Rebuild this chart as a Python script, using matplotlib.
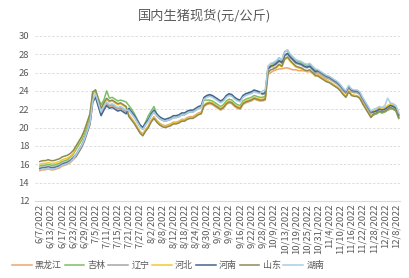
import matplotlib
matplotlib.use("Agg")
import matplotlib.pyplot as plt
import numpy as np

plt.rcParams['font.family'] = ['Noto Sans CJK SC', 'DejaVu Sans']

title = "国内生猪现货(元/公斤)"
tick_labels = ["6/7/2022", "6/13/2022", "6/17/2022", "6/23/2022", "6/29/2022", "7/5/2022",
               "7/11/2022", "7/15/2022", "7/21/2022", "7/27/2022", "8/2/2022", "8/8/2022",
               "8/12/2022", "8/18/2022", "8/24/2022", "8/30/2022", "9/5/2022", "9/9/2022",
               "9/16/2022", "9/22/2022", "9/28/2022", "10/9/2022", "10/13/2022", "10/19/2022",
               "10/25/2022", "10/31/2022", "11/4/2022", "11/10/2022", "11/16/2022", "11/22/2022",
               "11/28/2022", "12/2/2022", "12/8/2022"]
label_step = 4

heilongjiang = [
    15.3, 15.4, 15.4, 15.5, 15.4, 15.4, 15.5, 15.6, 15.8, 15.9,
    16.0, 16.2, 16.5, 16.8, 17.3, 17.8, 18.5, 19.4, 20.3, 22.7,
    23.5, 22.5, 21.5, 22.1, 22.6, 22.3, 22.4, 22.2, 22.0, 22.1,
    21.9, 21.7, 21.4, 21.0, 20.6, 20.1, 19.6, 19.3, 19.8, 20.2,
    20.8, 21.2, 20.8, 20.5, 20.3, 20.2, 20.3, 20.4, 20.6, 20.6,
    20.7, 20.9, 20.9, 21.1, 21.2, 21.2, 21.4, 21.6, 21.7, 22.3,
    22.5, 22.6, 22.5, 22.3, 22.1, 21.9, 22.1, 22.5, 22.7, 22.6,
    22.3, 22.1, 22.0, 22.5, 22.7, 22.8, 22.9, 23.1, 23.0, 22.9,
    22.9, 23.0, 25.8, 26.0, 26.2, 26.3, 26.4, 26.4, 26.5, 26.5,
    26.4, 26.3, 26.3, 26.2, 26.2, 26.2, 26.1, 26.1, 26.0, 25.9,
    25.8, 25.6, 25.4, 25.2, 25.0, 24.8, 24.6, 24.4, 24.1, 23.7,
    23.4, 23.9, 23.6, 23.5, 23.4, 23.2, 22.7, 22.2, 21.7, 21.2,
    21.4, 21.5, 21.7, 21.6, 21.7, 21.9, 22.0, 22.0, 21.8, 21.0]
jilin = [
    15.8, 15.9, 15.9, 16.0, 15.9, 15.9, 16.0, 16.1, 16.3, 16.4,
    16.5, 16.8, 17.1, 17.6, 18.1, 18.6, 19.3, 20.2, 21.2, 23.6,
    24.1, 23.2, 22.5, 23.0, 24.0, 23.2, 23.3, 23.1, 22.9, 23.0,
    22.9, 22.8, 22.4, 22.0, 21.5, 20.9, 20.3, 20.0, 20.6, 21.3,
    21.8, 22.3, 21.5, 21.0, 20.8, 20.7, 20.8, 20.9, 21.1, 21.1,
    21.2, 21.4, 21.4, 21.6, 21.7, 21.7, 21.9, 22.1, 22.2, 23.0,
    23.0, 23.0, 22.9, 22.7, 22.5, 22.3, 22.5, 22.9, 23.1, 23.0,
    22.7, 22.5, 22.4, 22.9, 23.1, 23.2, 23.3, 23.5, 23.4, 23.3,
    23.3, 23.4, 26.5, 26.9, 27.0, 27.2, 27.6, 27.3, 28.3, 28.4,
    27.9, 27.6, 27.3, 27.2, 27.1, 26.9, 26.8, 26.9, 26.6, 26.3,
    26.1, 25.9, 25.7, 25.5, 25.4, 25.2, 25.0, 24.8, 24.5, 24.1,
    23.8, 24.4, 24.0, 23.9, 23.9, 23.7, 23.1, 22.5, 21.9, 21.2,
    21.4, 21.5, 21.7, 21.6, 21.7, 21.9, 22.1, 22.0, 21.8, 21.0]
liaoning = [
    15.6, 15.7, 15.7, 15.8, 15.7, 15.7, 15.8, 15.9, 16.1, 16.2,
    16.3, 16.5, 16.8, 17.1, 17.6, 18.1, 18.8, 19.7, 20.6, 23.0,
    23.6, 22.6, 21.6, 22.2, 22.7, 22.4, 22.5, 22.3, 22.1, 22.2,
    22.0, 21.8, 21.9, 21.5, 21.1, 20.6, 20.1, 19.8, 20.3, 20.7,
    21.3, 21.7, 21.3, 21.0, 20.8, 20.7, 20.8, 20.9, 21.1, 21.1,
    21.2, 21.4, 21.4, 21.6, 21.7, 21.7, 21.9, 22.1, 22.2, 23.2,
    23.4, 23.5, 23.4, 23.2, 23.0, 22.8, 23.0, 23.4, 23.6, 23.5,
    23.2, 23.0, 22.9, 23.4, 23.6, 23.7, 23.8, 24.0, 23.9, 23.8,
    23.6, 23.7, 26.3, 26.6, 26.7, 26.9, 27.2, 27.0, 27.8, 28.0,
    27.6, 27.3, 27.0, 26.9, 26.8, 26.6, 26.5, 26.6, 26.3, 26.0,
    26.0, 25.8, 25.6, 25.4, 25.3, 25.1, 24.9, 24.7, 24.4, 24.0,
    23.7, 24.3, 23.9, 23.8, 23.8, 23.6, 23.0, 22.5, 22.0, 21.5,
    21.8, 21.9, 22.1, 22.0, 22.1, 22.3, 22.5, 22.4, 22.2, 21.4]
hebei = [
    16.0, 16.1, 16.1, 16.2, 16.1, 16.1, 16.2, 16.3, 16.5, 16.6,
    16.7, 16.9, 17.2, 17.9, 18.4, 18.9, 19.6, 20.5, 21.4, 23.8,
    24.0, 23.0, 22.0, 22.6, 23.1, 22.8, 22.9, 22.7, 22.5, 22.6,
    22.4, 22.2, 21.3, 20.9, 20.5, 20.0, 19.5, 19.2, 19.7, 20.1,
    20.7, 21.1, 20.7, 20.4, 20.2, 20.1, 20.2, 20.3, 20.5, 20.5,
    20.6, 20.8, 20.8, 21.0, 21.1, 21.1, 21.3, 21.5, 21.6, 22.5,
    22.7, 22.8, 22.7, 22.5, 22.3, 22.1, 22.3, 22.7, 22.9, 22.8,
    22.5, 22.3, 22.2, 22.7, 22.9, 23.0, 23.1, 23.3, 23.2, 23.1,
    23.1, 23.2, 26.6, 27.0, 26.5, 26.5, 26.8, 26.6, 27.4, 27.6,
    27.2, 26.9, 26.6, 26.5, 26.4, 26.2, 26.1, 26.2, 25.9, 25.6,
    25.7, 25.5, 25.3, 25.1, 25.0, 24.8, 24.6, 24.4, 24.1, 23.7,
    23.4, 24.0, 23.6, 23.5, 23.5, 23.3, 22.7, 22.2, 21.7, 21.2,
    21.9, 22.0, 22.2, 22.1, 22.2, 22.4, 22.6, 22.5, 22.3, 21.5]
henan = [
    15.5, 15.6, 15.6, 15.7, 15.6, 15.6, 15.7, 15.8, 16.0, 16.1,
    16.2, 16.4, 16.7, 16.9, 17.4, 17.9, 18.6, 19.5, 20.4, 22.8,
    23.3, 22.3, 21.3, 21.9, 22.4, 22.1, 22.2, 22.0, 21.8, 21.9,
    21.7, 21.5, 22.1, 21.7, 21.3, 20.8, 20.3, 20.0, 20.5, 20.9,
    21.5, 21.9, 21.5, 21.2, 21.0, 20.9, 21.0, 21.1, 21.3, 21.3,
    21.4, 21.6, 21.6, 21.8, 21.9, 21.9, 22.1, 22.3, 22.4, 23.3,
    23.5, 23.6, 23.5, 23.3, 23.1, 22.9, 23.1, 23.5, 23.7, 23.6,
    23.3, 23.1, 23.0, 23.5, 23.7, 23.8, 23.9, 24.1, 24.0, 23.9,
    23.7, 23.8, 26.4, 26.7, 26.8, 27.0, 27.3, 27.1, 27.9, 28.1,
    27.7, 27.4, 27.1, 27.0, 26.9, 26.7, 26.6, 26.7, 26.4, 26.1,
    26.2, 26.0, 25.8, 25.6, 25.5, 25.3, 25.1, 24.9, 24.6, 24.2,
    23.9, 24.5, 24.1, 24.0, 24.0, 23.8, 23.2, 22.7, 22.2, 21.7,
    21.7, 21.8, 22.0, 21.9, 22.0, 22.2, 22.4, 22.3, 22.1, 21.3]
shandong = [
    16.3, 16.4, 16.4, 16.5, 16.4, 16.4, 16.5, 16.6, 16.8, 16.9,
    17.0, 17.2, 17.5, 18.0, 18.5, 19.0, 19.7, 20.6, 21.5, 23.9,
    24.1, 23.1, 22.1, 22.7, 23.2, 22.9, 23.0, 22.8, 22.6, 22.7,
    22.5, 22.3, 21.2, 20.8, 20.4, 19.9, 19.4, 19.1, 19.6, 20.0,
    20.6, 21.0, 20.6, 20.3, 20.1, 20.0, 20.1, 20.2, 20.4, 20.4,
    20.5, 20.7, 20.7, 20.9, 21.0, 21.0, 21.2, 21.4, 21.5, 22.4,
    22.6, 22.7, 22.6, 22.4, 22.2, 22.0, 22.2, 22.6, 22.8, 22.7,
    22.4, 22.2, 22.1, 22.6, 22.8, 22.9, 23.0, 23.2, 23.1, 23.0,
    23.0, 23.1, 26.0, 26.3, 26.4, 26.6, 26.9, 26.7, 27.5, 27.7,
    27.3, 27.0, 26.7, 26.6, 26.5, 26.3, 26.2, 26.3, 26.0, 25.7,
    25.6, 25.4, 25.2, 25.0, 24.9, 24.7, 24.5, 24.3, 24.0, 23.6,
    23.3, 23.9, 23.5, 23.4, 23.4, 23.2, 22.6, 22.1, 21.6, 21.1,
    21.5, 21.6, 21.8, 21.7, 21.8, 22.0, 22.2, 22.1, 21.9, 21.1]
hunan = [
    15.4, 15.5, 15.5, 15.6, 15.5, 15.5, 15.6, 15.7, 15.9, 16.0,
    16.1, 16.3, 16.6, 17.0, 17.5, 18.0, 18.7, 19.6, 20.5, 22.9,
    23.7, 22.7, 21.7, 22.3, 22.8, 22.5, 22.6, 22.4, 22.2, 22.3,
    22.1, 21.9, 21.9, 21.5, 21.1, 20.6, 20.1, 19.8, 20.3, 20.7,
    21.3, 21.7, 21.3, 21.0, 20.8, 20.7, 20.8, 20.9, 21.1, 21.1,
    21.2, 21.4, 21.4, 21.6, 21.7, 21.7, 21.9, 22.1, 22.2, 23.1,
    23.3, 23.4, 23.3, 23.1, 22.9, 22.7, 22.9, 23.3, 23.5, 23.4,
    23.1, 22.9, 22.8, 23.3, 23.5, 23.6, 23.7, 23.9, 23.8, 23.7,
    24.0, 24.1, 26.7, 27.0, 27.1, 27.3, 27.6, 27.4, 28.2, 28.5,
    28.0, 27.7, 27.4, 27.3, 27.2, 27.0, 26.9, 27.0, 26.7, 26.4,
    26.3, 26.1, 25.9, 25.7, 25.6, 25.4, 25.2, 25.0, 24.7, 24.3,
    24.0, 24.6, 24.2, 24.1, 24.1, 23.9, 23.3, 22.8, 22.3, 21.8,
    22.0, 22.1, 22.3, 22.2, 22.4, 23.2, 22.7, 22.6, 22.4, 21.6]

series_names = ["黑龙江", "吉林", "辽宁", "河北", "河南", "山东", "湖南"]
series_values = [heilongjiang, jilin, liaoning, hebei, henan, shandong, hunan]
colors = ["#EBA56E", "#7DBE64", "#A6A6A6", "#F2C832", "#44658F", "#8C8A55", "#A9CDE3"]

fig = plt.figure(figsize=(4.1, 2.78), dpi=100)
ax = fig.add_axes([0.085, 0.277, 0.891, 0.594])

n = len(heilongjiang)
x = np.arange(n)
for name, vals, c in zip(series_names, series_values, colors):
    ax.plot(x, vals, color=c, lw=1.1, label=name)

ax.set_ylim(12, 30)
ax.set_yticks(np.arange(12, 31, 2))
ax.set_xlim(-1.8, n - 0.5)
ax.set_xticks(np.arange(0, len(tick_labels) * label_step, label_step))
ax.set_xticklabels(tick_labels, rotation=90)
ax.tick_params(axis='x', length=0, labelsize=6.8, colors="#595959", pad=2)
ax.tick_params(axis='y', length=0, labelsize=6.8, colors="#595959", pad=4)
ax.grid(axis='y', color="#D9D9D9", ls=(0, (3, 2)), lw=0.6)
ax.set_axisbelow(True)
for s in ["top", "right", "left"]:
    ax.spines[s].set_visible(False)
ax.spines["bottom"].set_color("#D9D9D9")
ax.spines["bottom"].set_linewidth(0.8)

fig.text(0.5, 0.944, title, ha='center', va='center', fontsize=9.5, color="#595959")

fig.legend(loc='center', bbox_to_anchor=(0.41, 0.045), ncol=7, frameon=False,
           fontsize=6.5, handlelength=2.2, handletextpad=0.35, columnspacing=0.3,
           labelcolor="#595959")

fig.savefig("out.png", dpi=100, facecolor="white")
